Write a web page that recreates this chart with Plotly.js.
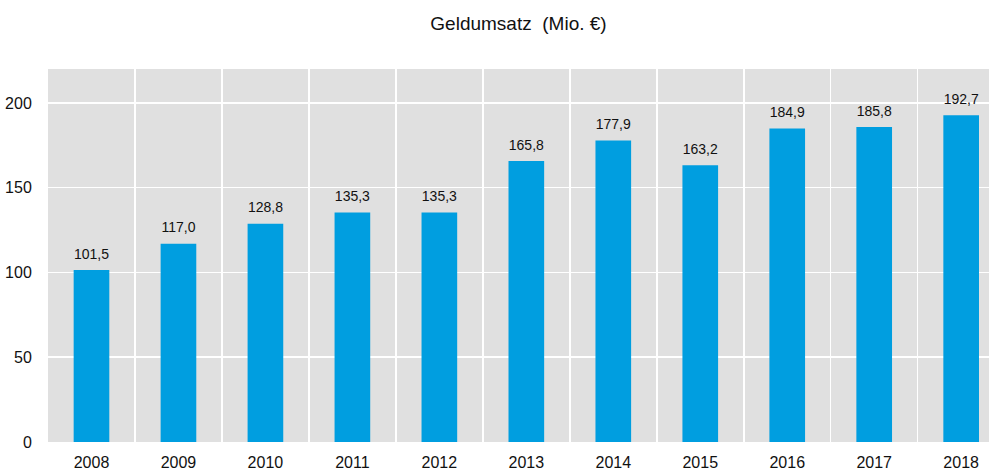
<!DOCTYPE html>
<html>
<head>
<meta charset="utf-8">
<script src="https://cdn.plot.ly/plotly-3.0.1.min.js"></script>
<style>html,body{margin:0;padding:0;background:#fff;}#chart{width:989px;height:471px;}</style>
</head>
<body>
<div id="chart"></div>
<script>
var years = ["2008","2009","2010","2011","2012","2013","2014","2015","2016","2017","2018"];
var values = [101.5,117.0,128.8,135.3,135.3,165.8,177.9,163.2,184.9,185.8,192.7];
var yTicks = [0,50,100,150,200];
var titleText = "Geldumsatz&nbsp; (Mio. €)";

var bars = {
  type: "bar",
  x: years,
  y: values,
  marker: {color: "#009ee0"},
  hoverinfo: "none"
};

var labels = {
  type: "scatter",
  mode: "markers+text",
  x: years,
  y: values,
  text: values.map(function (v) { return v.toFixed(1).replace(".", ","); }),
  textposition: "top center",
  marker: {size: 11, color: "rgba(0,0,0,0)"},
  textfont: {family: "Liberation Sans, Arial, sans-serif", size: 14, color: "#111"},
  cliponaxis: false,
  hoverinfo: "none"
};

var layout = {
  width: 989, height: 471,
  margin: {l: 48, r: 0, t: 69, b: 29},
  paper_bgcolor: "#ffffff",
  plot_bgcolor: "#e0e0e0",
  bargap: 0.59,
  showlegend: false,
  font: {family: "Liberation Sans, Arial, sans-serif", size: 15, color: "#111"},
  title: {text: titleText, x: 0.5, xref: "paper", xanchor: "center", y: 0.95, yref: "container", yanchor: "middle", font: {size: 19, color: "#111"}},
  xaxis: {
    type: "category",
    range: [-0.5, 10.32],
    tickson: "boundaries",
    showgrid: true, gridcolor: "#ffffff", gridwidth: 1.5,
    ticks: "", ticklabelstandoff: 9,
    showline: false, zeroline: false,
    automargin: false,
    tickfont: {size: 16, color: "#111"}
  },
  yaxis: {
    range: [0, 220],
    tickvals: yTicks,
    ticktext: yTicks.map(String),
    showgrid: true, gridcolor: "#ffffff", gridwidth: 1.5,
    zeroline: false, showline: false,
    ticks: "outside", ticklen: 12, tickcolor: "rgba(0,0,0,0)",
    automargin: false,
    tickfont: {size: 16, color: "#111"}
  }
};

Plotly.newPlot("chart", [bars, labels], layout, {displayModeBar: false, staticPlot: true});
</script>
</body>
</html>
